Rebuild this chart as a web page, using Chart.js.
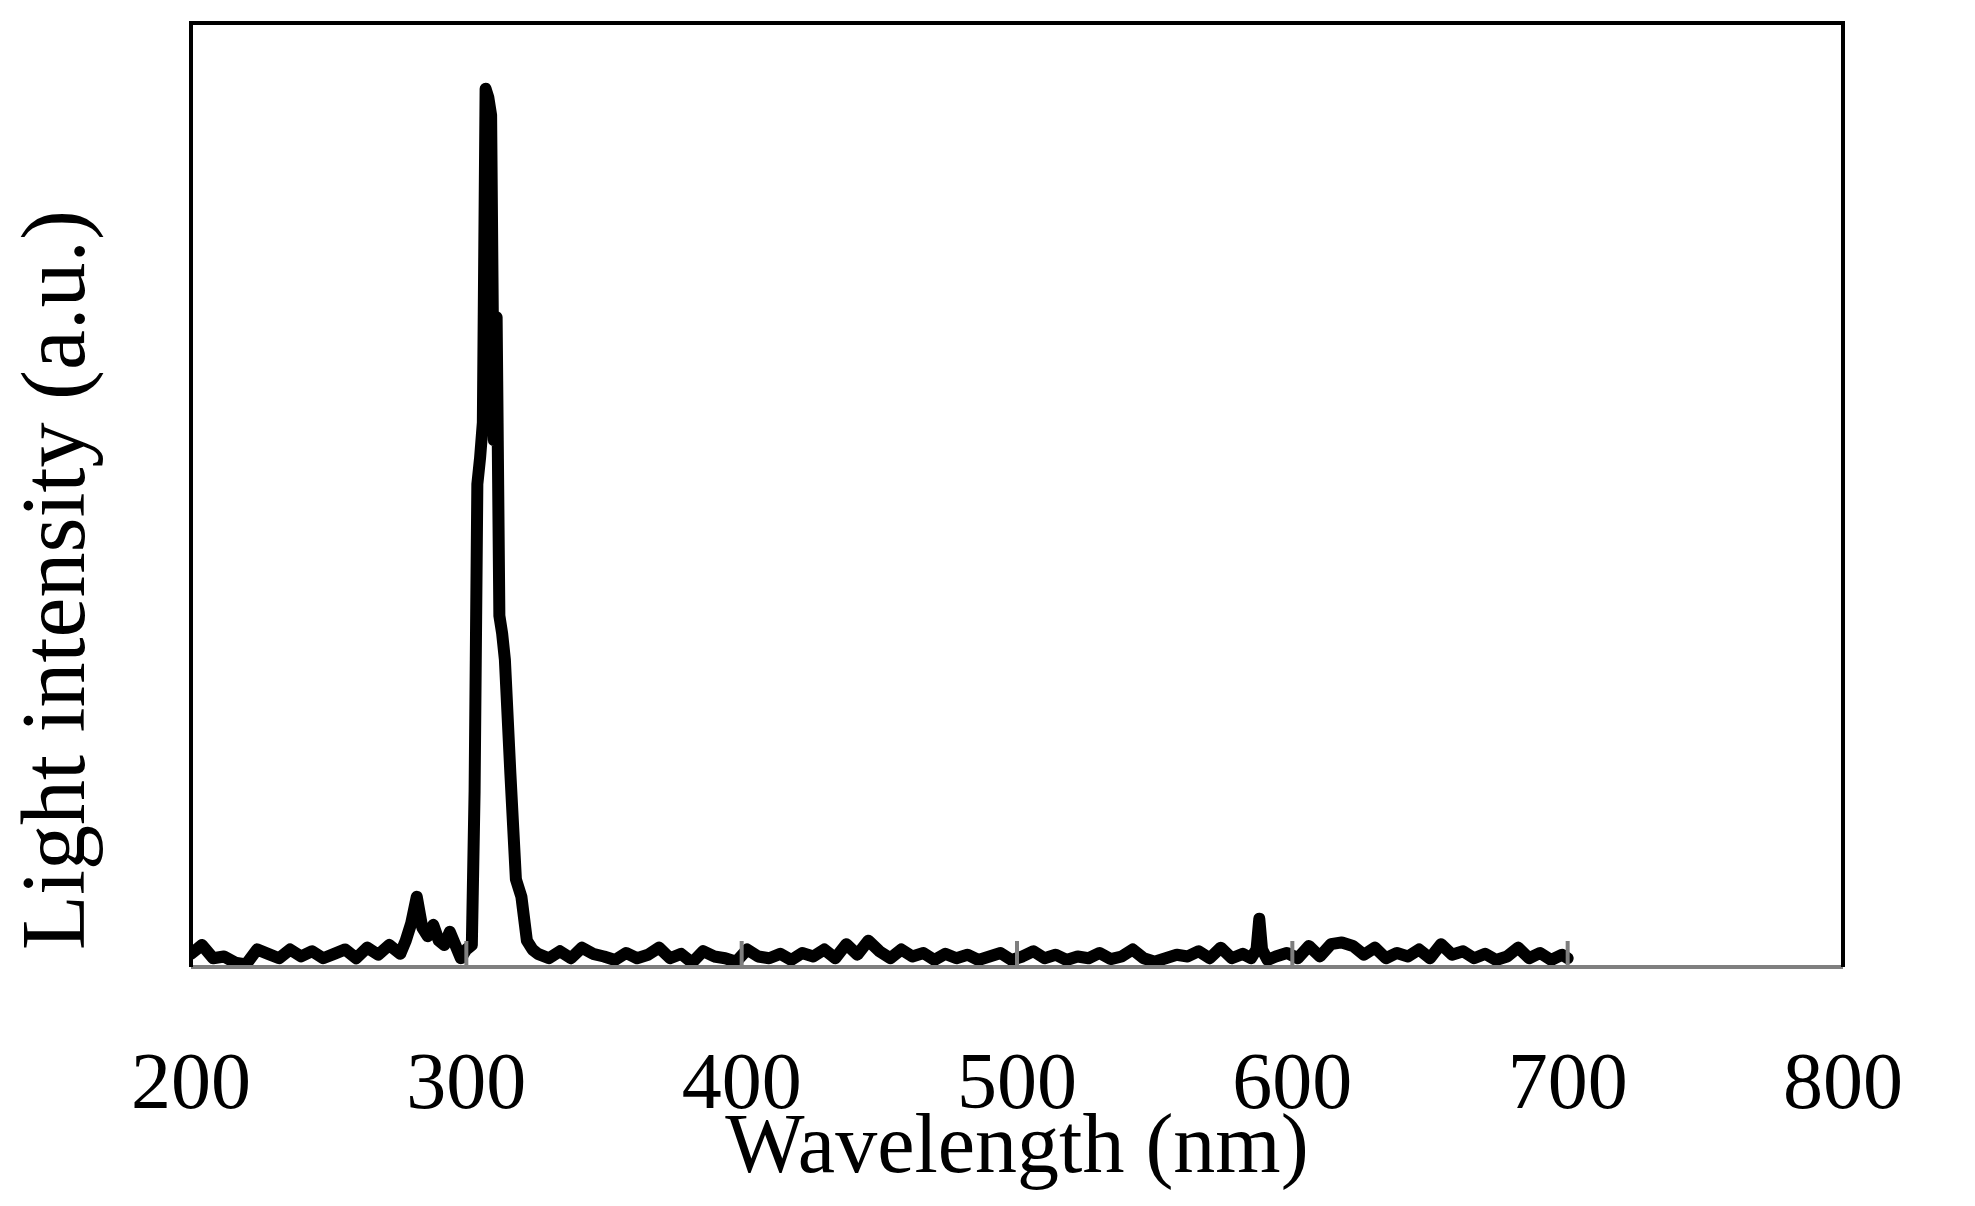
<!DOCTYPE html>
<html>
<head>
<meta charset="utf-8">
<script src="https://cdn.jsdelivr.net/npm/chart.js@4"></script>
<style>
  html, body { margin: 0; padding: 0; background: #fff; }
  #wrap { width: 1975px; height: 1206px; }
</style>
</head>
<body>
<div id="wrap"><canvas id="c" width="1975" height="1206"></canvas></div>
<script>
'use strict'

// wavelength (nm) and intensity (a.u., peak ~100)
const wavelengths = [
	200, 204, 208, 212, 216, 220, 224, 228, 232, 236, 240, 244, 248, 252, 256, 260, 264, 268, 272, 276,
	278, 280, 282, 284, 286, 288, 290, 292, 294, 296, 298, 300, 302, 303, 304, 305, 306, 307, 308, 309,
	310, 311, 312, 313, 314, 316, 318, 320, 322, 324, 326, 330,
	334, 338, 342, 346, 350, 354, 358, 362, 366, 370, 374, 378, 382, 386, 390, 394, 398, 402, 406, 410,
	414, 418, 422, 426, 430, 434, 438, 442, 446, 450, 454, 458, 462, 466, 470, 474, 478, 482, 486, 490,
	494, 498, 502, 506, 510, 514, 518, 522, 526, 530, 534, 538, 542, 546, 550, 554, 558, 562, 566, 570,
	574, 578, 582, 585, 587, 588, 589, 591, 594, 598, 602, 606, 610, 614, 618, 622, 626, 630, 634, 638,
	642, 646, 650, 654, 658, 662, 666, 670, 674, 678, 682, 686, 690, 694, 698, 700
];
const intensities = [
	1.5, 2.5, 1.0, 1.2, 0.5, 0.3, 2.0, 1.5, 1.0, 2.0, 1.2, 1.8, 1.0, 1.5, 2.0, 1.0, 2.2, 1.4, 2.5, 1.5,
	3.0, 5.0, 8.0, 4.5, 3.5, 4.8, 3.0, 2.5, 4.0, 2.5, 1.0, 2.0, 2.5, 20, 55, 58, 62, 100, 99, 97,
	60, 74, 40, 38, 35, 22, 10, 8.0, 3.0, 2.0, 1.5, 1.0,
	1.8, 1.0, 2.2, 1.5, 1.2, 0.8, 1.6, 1.0, 1.4, 2.2, 1.0, 1.5, 0.5, 1.8, 1.2, 1.0, 0.6, 2.0, 1.2, 1.0,
	1.5, 0.8, 1.6, 1.2, 2.0, 1.0, 2.6, 1.4, 3.0, 1.8, 1.0, 2.0, 1.2, 1.6, 0.8, 1.5, 1.0, 1.4, 0.8, 1.2,
	1.6, 0.8, 1.2, 1.8, 1.0, 1.4, 0.8, 1.2, 1.0, 1.6, 0.9, 1.2, 2.0, 1.0, 0.6, 1.0, 1.4, 1.2, 1.8, 1.0,
	2.2, 1.0, 1.5, 1.0, 2.0, 5.5, 2.0, 0.8, 1.2, 1.6, 1.0, 2.4, 1.2, 2.6, 2.8, 2.4, 1.4, 2.2, 1.0, 1.6,
	1.2, 2.0, 1.0, 2.6, 1.4, 1.8, 1.0, 1.5, 0.8, 1.2, 2.2, 1.0, 1.6, 0.8, 1.4, 1.0
];
const xTicks = [200, 300, 400, 500, 600, 700, 800];

let points = wavelengths.map((w, i) => ({ x: w, y: intensities[i] }));

// frame, inside tick marks and the y title
let decorate = {
	id: 'decorate',
	afterDraw: (chart) => {
		let ctx = chart.ctx;
		let a = chart.chartArea;
		let xs = chart.scales.x;
		ctx.save();
		ctx.strokeStyle = '#7f7f7f';
		ctx.lineWidth = 4;
		xTicks.forEach((t) => {
			let px = xs.getPixelForValue(t);
			ctx.beginPath();
			ctx.moveTo(px, a.bottom);
			ctx.lineTo(px, a.bottom - 26);
			ctx.stroke();
		});
		ctx.beginPath();
		ctx.moveTo(a.left, a.bottom);
		ctx.lineTo(a.right, a.bottom);
		ctx.stroke();
		ctx.strokeStyle = '#000';
		ctx.beginPath();
		ctx.moveTo(a.left, a.bottom);
		ctx.lineTo(a.left, a.top);
		ctx.lineTo(a.right, a.top);
		ctx.lineTo(a.right, a.bottom);
		ctx.stroke();
		ctx.fillStyle = '#000';
		ctx.font = '90px "Liberation Serif", serif';
		ctx.textAlign = 'center';
		ctx.textBaseline = 'middle';
		ctx.translate(60, 580);
		ctx.rotate(-Math.PI / 2);
		ctx.fillText('Light intensity (a.u.)', 0, 0);
		ctx.restore();
	}
};

new Chart(document.getElementById('c'), {
	type: 'line',
	data: {
		datasets: [{
			data: points,
			borderColor: '#000',
			borderWidth: 12,
			borderJoinStyle: 'round',
			borderCapStyle: 'round',
			pointRadius: 0,
			tension: 0,
			fill: false
		}]
	},
	options: {
		responsive: false,
		animation: false,
		layout: { padding: { top: 23, right: 23, left: 0, bottom: 0 } },
		plugins: { legend: { display: false }, tooltip: { enabled: false } },
		scales: {
			x: {
				type: 'linear',
				min: 200,
				max: 800,
				afterBuildTicks: (s) => { s.ticks = xTicks.map((v) => ({ value: v })); },
				afterFit: (s) => { s.height = 239; },
				grid: { display: false, drawTicks: false },
				border: { display: false },
				ticks: {
					color: '#000',
					padding: 72,
					maxRotation: 0,
					font: { family: '"Liberation Serif", serif', size: 80 }
				},
				title: {
					display: true,
					text: 'Wavelength (nm)',
					color: '#000',
					padding: { top: 0, bottom: 6 },
					font: { family: '"Liberation Serif", serif', size: 84 }
				}
			},
			y: {
				min: 0,
				max: 107.5,
				afterFit: (s) => { s.width = 191; },
				grid: { display: false, drawTicks: false },
				border: { display: false },
				ticks: { display: false }
			}
		}
	},
	plugins: [decorate]
});
</script>
</body>
</html>
